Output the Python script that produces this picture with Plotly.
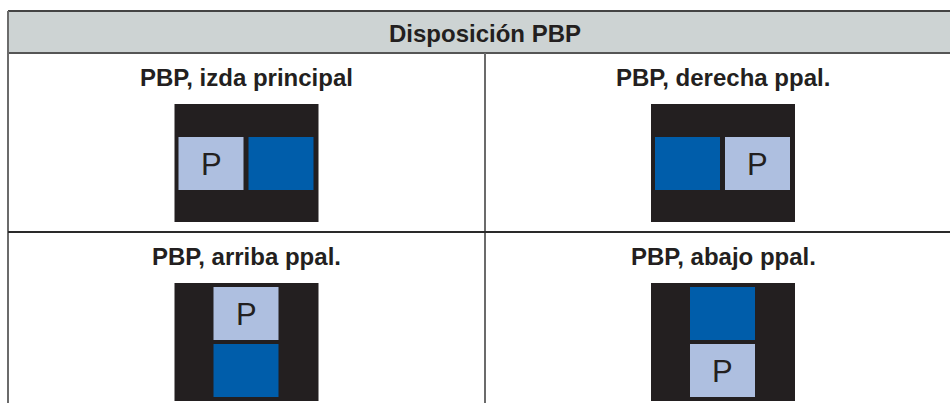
import plotly.graph_objects as go

# ---- data ----
header_title = "Disposición PBP"
panel_titles = ["PBP, izda principal", "PBP, derecha ppal.", "PBP, arriba ppal.", "PBP, abajo ppal."]
panel_orientation = ["horizontal", "horizontal", "vertical", "vertical"]
main_first = [True, False, True, False]
main_label = "P"

# ---- styles ----
HEADER_FILL = "#CDD3D3"
DARK = "#231F20"
BLUE = "#005DAA"
LIGHT = "#AEBFE0"
TEXT = "#231F20"
FONT = "Liberation Sans, Arial, sans-serif"

W, H = 950, 403
# table geometry (pixel coordinate system on axes)
left, right = 8, 961
top, head_bot = 11, 53
row_div = 232
col_div = 485
col_centers = [(left + col_div) / 2, (col_div + right) / 2]
row_label_y = [77, 256]
screen_top = [104, 283]
screen_w, screen_h = 144, 118
box_w, box_h = 65, 53

shapes = []
annotations = []

def rect(x0, y0, x1, y1, fill):
    shapes.append(dict(type="rect", xref="x", yref="y", x0=x0, y0=y0, x1=x1, y1=y1,
                       fillcolor=fill, line=dict(width=0), layer="above"))

def line(x0, y0, x1, y1, color, w=2):
    shapes.append(dict(type="line", xref="x", yref="y", x0=x0, y0=y0, x1=x1, y1=y1,
                       line=dict(color=color, width=w), layer="above"))

# header
rect(left, top, right, head_bot, HEADER_FILL)
annotations.append(dict(x=(left + right) / 2, y=33, xref="x", yref="y", text="<b>%s</b>" % header_title,
                        showarrow=False, font=dict(family=FONT, size=24, color=TEXT),
                        xanchor="center", yanchor="middle"))

for i, title in enumerate(panel_titles):
    col, row = i % 2, i // 2
    cx = col_centers[col]
    annotations.append(dict(x=cx, y=row_label_y[row], xref="x", yref="y", text="<b>%s</b>" % title,
                            showarrow=False, font=dict(family=FONT, size=24, color=TEXT),
                            xanchor="center", yanchor="middle"))
    sx0 = cx - screen_w / 2
    sy0 = screen_top[row]
    rect(sx0, sy0, sx0 + screen_w, sy0 + screen_h, DARK)
    if panel_orientation[i] == "horizontal":
        by0 = sy0 + 33
        boxes = [(sx0 + 4, by0), (sx0 + 4 + box_w + 5, by0)]
    else:
        bx0 = sx0 + 39
        boxes = [(bx0, sy0 + 4), (bx0, sy0 + 4 + box_h + 4)]
    order = [LIGHT, BLUE] if main_first[i] else [BLUE, LIGHT]
    for (bx, by), color in zip(boxes, order):
        rect(bx, by, bx + box_w, by + box_h, color)
        if color == LIGHT:
            annotations.append(dict(x=bx + box_w / 2, y=by + box_h / 2 + 1, xref="x", yref="y",
                                    text=main_label, showarrow=False,
                                    font=dict(family=FONT, size=31, color=TEXT),
                                    xanchor="center", yanchor="middle"))

# borders
line(left, top, right, top, "#444444", 2)
line(left, head_bot, right, head_bot, "#555555", 2)
line(left, top, left, H + 5, "#6B6B6B", 2)
line(col_div, head_bot, col_div, H + 5, "#6B6B6B", 2)
line(left, row_div, right, row_div, "#2A2A2A", 2)

fig = go.Figure()
fig.add_trace(go.Scatter(x=[0, W], y=[0, H], mode="markers", marker=dict(opacity=0),
                         hoverinfo="skip", showlegend=False))
fig.update_layout(
    width=W, height=H, margin=dict(l=0, r=0, t=0, b=0),
    paper_bgcolor="white", plot_bgcolor="white",
    xaxis=dict(range=[0, W], visible=False, fixedrange=True),
    yaxis=dict(range=[H, 0], visible=False, fixedrange=True),
    shapes=shapes, annotations=annotations, showlegend=False,
)
page_fix = ("document.body.style.margin='0';"
            "document.body.style.overflow='hidden';"
            "document.documentElement.style.overflow='hidden';")
fig.write_html("out.html", config={"displayModeBar": False}, post_script=page_fix)
